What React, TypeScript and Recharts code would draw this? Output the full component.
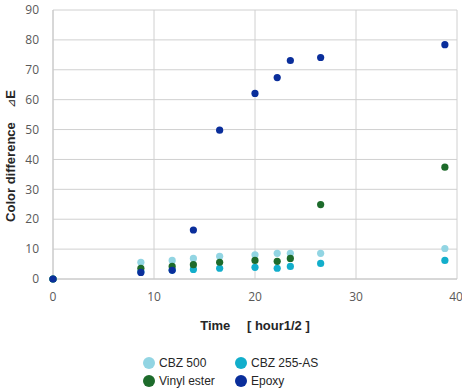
import React from 'react';
import { ScatterChart, Scatter, XAxis, YAxis, CartesianGrid, Legend, Label } from 'recharts';

const times = [0, 8.7, 11.8, 13.9, 16.5, 20, 22.2, 23.5, 26.5, 38.8];
const cbz500 = [0, 5.6, 6.2, 6.9, 7.6, 8.1, 8.6, 8.6, 8.6, 10.2];
const cbz255 = [0, 2.4, 3.0, 3.2, 3.6, 3.9, 3.6, 4.2, 5.2, 6.2];
const vinylEster = [0, 3.6, 4.2, 4.8, 5.6, 6.2, 5.9, 6.9, 24.9, 37.4];
const epoxy = [0, 2.2, 2.9, 16.4, 49.8, 62.1, 67.4, 73.1, 74.1, 78.4];

const xTicks = [0, 10, 20, 30, 40];
const yTicks = [0, 10, 20, 30, 40, 50, 60, 70, 80, 90];

const seriesNames = ['CBZ 500', 'CBZ 255-AS', 'Vinyl ester', 'Epoxy'];
const seriesColors = ['#92d5e3', '#12aecb', '#1d6b2b', '#0a2e9b'];
const seriesValues = [cbz500, cbz255, vinylEster, epoxy];

const toPoints = (vals: number[]) => times.map((t, i) => ({ x: t, y: vals[i] }));

const Dot = (color: string) => (props: any) => (
  <circle cx={props.cx} cy={props.cy} r={3.6} fill={color} />
);

const LegendContent = () => {
  const item = (i: number) => (
    <div style={{ display: 'flex', alignItems: 'center', width: i % 2 === 0 ? 92 : 100, height: 18 }}>
      <span style={{ display: 'inline-block', width: 12, height: 12, borderRadius: 6, background: seriesColors[i], marginRight: 4 }} />
      <span style={{ fontFamily: '"Liberation Sans", Arial, sans-serif', fontSize: 12, color: '#262626' }}>{seriesNames[i]}</span>
    </div>
  );
  return (
    <div style={{ position: 'absolute', left: 143, top: 15, width: 200 }}>
      <div style={{ display: 'flex' }}>{item(0)}{item(1)}</div>
      <div style={{ display: 'flex' }}>{item(2)}{item(3)}</div>
    </div>
  );
};

export default function App() {
  return (
    <div style={{ position: 'absolute', left: 0, top: 0, width: 462, height: 389, background: '#fff' }}>
      <ScatterChart width={462} height={389} margin={{ top: 10, right: 5, left: 0, bottom: 0 }}>
        <CartesianGrid stroke="#d0d0d0" strokeWidth={1} />
        <XAxis
          type="number"
          dataKey="x"
          domain={[0, 40]}
          ticks={xTicks}
          height={60}
          stroke="#c8c8c8"
          tickLine={false}
          tickSize={6}
          tickMargin={7}
          tick={{ fill: '#595959', fontSize: 12, fontFamily: '"Open Sans", sans-serif' }}
        >
          <Label
            value="Time　 [ hour1/2 ]"
            position="insideTop"
            offset={42}
            style={{ fontFamily: '"Liberation Sans", Arial, sans-serif', fontSize: 13, fontWeight: 'bold', fill: '#262626' }}
          />
        </XAxis>
        <YAxis
          type="number"
          dataKey="y"
          domain={[0, 90]}
          ticks={yTicks}
          width={53}
          stroke="#c8c8c8"
          tickLine={false}
          tickMargin={8}
          interval={0}
          tick={{ fill: '#595959', fontSize: 12, fontFamily: '"Open Sans", sans-serif' }}
        >
          <Label
            content={() => (
              <text
                x={15}
                y={156}
                transform="rotate(-90 15 156)"
                textAnchor="middle"
                style={{ fontFamily: '"Liberation Sans", Arial, sans-serif', fontSize: 13, fontWeight: 'bold', fill: '#262626' }}
              >
                Color difference{'\u00a0\u00a0\u00a0\u00a0'}
                <tspan style={{ fontWeight: 'normal', fontSize: 11 }}>⊿</tspan>E
              </text>
            )}
          />
        </YAxis>
        <Legend verticalAlign="bottom" height={50} content={<LegendContent />} />
        {seriesValues.map((vals, i) => (
          <Scatter
            key={seriesNames[i]}
            name={seriesNames[i]}
            data={toPoints(vals)}
            fill={seriesColors[i]}
            shape={Dot(seriesColors[i])}
            isAnimationActive={false}
          />
        ))}
      </ScatterChart>
    </div>
  );
}
